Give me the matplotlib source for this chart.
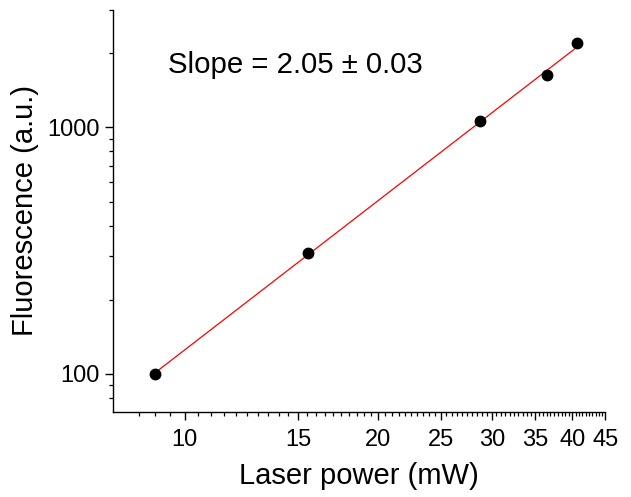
import numpy as np
import matplotlib.pyplot as plt
from matplotlib.ticker import FixedLocator, NullFormatter

plt.rcParams["font.family"] = ["Liberation Sans", "DejaVu Sans"]

# data
power = [9.0, 15.55, 28.8, 36.6, 40.75]          # mW
fluorescence = [100, 310, 1067, 1627, 2195]     # a.u.

x_major = [10, 15, 20, 25, 30, 35, 40, 45]
y_major = [100, 1000]
y_minor = [80, 90, 200, 300, 400, 500, 600, 700, 800, 900, 2000, 3000]

# linear fit in log-log space
slope, icpt = np.polyfit(np.log10(power), np.log10(fluorescence), 1)
xfit = np.array([min(power), max(power)])
yfit = 10 ** (icpt + slope * np.log10(xfit))

fig = plt.figure(figsize=(6.31, 4.97), dpi=100)
ax = fig.add_axes([0.179, 0.171, 0.780, 0.809])

ax.plot(xfit, yfit, color="red", lw=0.9, zorder=2)
ax.plot(power, fluorescence, "o", color="black", ms=7.5, zorder=3)

ax.set_xscale("log")
ax.set_yscale("log")
ax.set_xlim(7.74, 45)
ax.set_ylim(70, 3000)

ax.xaxis.set_major_locator(FixedLocator(x_major))
ax.xaxis.set_minor_locator(FixedLocator(np.arange(8.5, 45, 0.5)))
ax.set_xticklabels([str(v) for v in x_major])
ax.xaxis.set_minor_formatter(NullFormatter())

ax.yaxis.set_major_locator(FixedLocator(y_major))
ax.yaxis.set_minor_locator(FixedLocator(y_minor))
ax.set_yticklabels([str(v) for v in y_major])
ax.yaxis.set_minor_formatter(NullFormatter())

for s in ["top", "right"]:
    ax.spines[s].set_visible(False)
for s in ["left", "bottom"]:
    ax.spines[s].set_linewidth(1.0)

ax.tick_params(which="major", length=5.5, width=1.0, labelsize=17)
ax.tick_params(which="minor", length=3.2, width=0.9)
ax.tick_params(axis="x", which="major", pad=7)
ax.tick_params(axis="y", which="major", pad=4)

ax.set_xlabel("Laser power (mW)", fontsize=21, labelpad=8)
ax.set_ylabel("Fluorescence (a.u.)", fontsize=21, labelpad=6)

ax.text(0.112, 0.862, "Slope = 2.05 \u00b1 0.03", transform=ax.transAxes,
        fontsize=21.2, va="center", ha="left")

fig.savefig("out.png", dpi=100)
